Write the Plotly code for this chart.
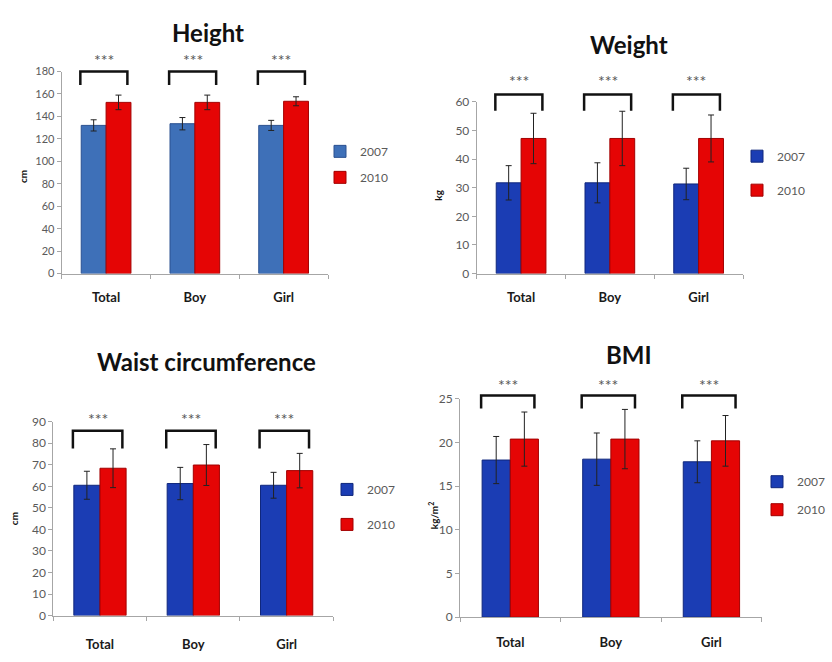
import plotly.graph_objects as go

W, H = 832, 662

categories = ["Total", "Boy", "Girl"]
years = ["2007", "2010"]

height_2007 = [132.0, 133.5, 132.0]
height_2007_sd = [5.0, 5.5, 4.5]
height_2010 = [152.5, 152.5, 153.5]
height_2010_sd = [6.5, 6.5, 4.0]

weight_2007 = [31.7, 31.7, 31.3]
weight_2007_sd = [6.0, 7.0, 5.5]
weight_2010 = [47.2, 47.2, 47.2]
weight_2010_sd = [8.8, 9.5, 8.2]

waist_2007 = [60.5, 61.3, 60.5]
waist_2007_sd = [6.5, 7.5, 6.0]
waist_2010 = [68.4, 69.9, 67.3]
waist_2010_sd = [9.0, 9.5, 8.0]

bmi_2007 = [18.0, 18.1, 17.8]
bmi_2007_sd = [2.7, 3.0, 2.4]
bmi_2010 = [20.4, 20.4, 20.2]
bmi_2010_sd = [3.1, 3.4, 2.9]

significance = ["***", "***", "***"]


def px_x(v):
    return v / W


def px_y(v):
    return 1 - v / H


RED = "#E50505"
RED_EDGE = "#A30000"

# one entry per panel: values, axis range and pixel placement of its pieces
panels = [
    dict(title="Height", unit="cm", means=(height_2007, height_2010),
         sds=(height_2007_sd, height_2010_sd), ymax=180, dtick=20,
         blue="#3E70B8", blue_edge="#2A5090",
         xdom=(61.7, 328), ydom=(271.7, 65), tick_size=11, label_gap=12,
         bracket=(168, 180), star=190.5,
         title_xy=(208, 25), unit_xy=(23, 173),
         legend_xy=(320, 160), legend_gap=7),
    dict(title="Weight", unit="kg", means=(weight_2007, weight_2010),
         sds=(weight_2007_sd, weight_2010_sd), ymax=60, dtick=10,
         blue="#1B3DB4", blue_edge="#10277C",
         xdom=(476.7, 743), ydom=(271.7, 96), tick_size=12, label_gap=12,
         bracket=(56.9, 62.6), star=67.3,
         title_xy=(629, 37), unit_xy=(438, 192),
         legend_xy=(737, 169), legend_gap=15),
    dict(title="Waist circumference", unit="cm", means=(waist_2007, waist_2010),
         sds=(waist_2007_sd, waist_2010_sd), ymax=90, dtick=10,
         blue="#1B3DB4", blue_edge="#10277C",
         xdom=(53.3, 333.3), ydom=(621.7, 423.3), tick_size=12, label_gap=17,
         bracket=(77.6, 85.8), star=91.5,
         title_xy=(206, 362), unit_xy=(14, 523),
         legend_xy=(327, 510.5), legend_gap=16),
    dict(title="BMI", unit="kg/m<sup>2</sup>", means=(bmi_2007, bmi_2010),
         sds=(bmi_2007_sd, bmi_2010_sd), ymax=25, dtick=5,
         blue="#1B3DB4", blue_edge="#10277C",
         xdom=(460, 761.7), ydom=(623.3, 400), tick_size=12, label_gap=13,
         bracket=(23.9, 25.4), star=26.7,
         title_xy=(629, 355), unit_xy=(433, 520),
         legend_xy=(757, 499), legend_gap=9),
]

BRACKET_LEFT, BRACKET_RIGHT = -0.29, 0.24

fig = go.Figure()
layout = dict(
    width=W, height=H, margin=dict(l=0, r=0, t=0, b=0),
    paper_bgcolor="white", plot_bgcolor="white",
    barmode="group", bargap=0.44, bargroupgap=0.0,
    font=dict(family="Lato, Open Sans, sans-serif", color="#5a5a5a"),
    shapes=[], annotations=[],
)

for i, p in enumerate(panels, start=1):
    sfx = "" if i == 1 else str(i)
    xa, ya = "x" + sfx, "y" + sfx
    leg = "legend" + sfx
    colors = [(p["blue"], p["blue_edge"]), (RED, RED_EDGE)]
    for k, year in enumerate(years):
        fig.add_trace(go.Bar(
            x=list(range(len(categories))), y=p["means"][k], name=year,
            xaxis=xa, yaxis=ya, legend=leg, legendgroup=f"{i}-{year}",
            marker=dict(color=colors[k][0], line=dict(color=colors[k][1], width=1)),
            error_y=dict(type="data", array=p["sds"][k], visible=True,
                         color="#222222", thickness=1, width=3),
        ))

    layout["xaxis" + sfx] = dict(
        domain=[px_x(p["xdom"][0]), px_x(p["xdom"][1])], anchor=ya,
        range=[-0.5, 2.5], tickmode="array", tickvals=[0, 1, 2],
        ticktext=categories, ticks="", showline=True, linecolor="#a6a6a6",
        linewidth=1, showgrid=False, zeroline=False, ticklabelstandoff=p["label_gap"],
        tickfont=dict(size=13, color="#1a1a1a", family="Lato, sans-serif", weight="bold"),
        minor=dict(tickmode="array", tickvals=[-0.5, 0.5, 1.5, 2.5], ticks="outside",
                   ticklen=4, tickcolor="#a6a6a6", showgrid=False),
        fixedrange=True,
    )
    layout["yaxis" + sfx] = dict(
        domain=[px_y(p["ydom"][0]), px_y(p["ydom"][1])], anchor=xa,
        range=[0, p["ymax"]], dtick=p["dtick"], ticks="outside", ticklen=4,
        tickcolor="#a6a6a6", showline=True, linecolor="#a6a6a6", linewidth=1,
        showgrid=False, zeroline=False,
        tickfont=dict(size=p["tick_size"], color="#5a5a5a"),
        fixedrange=True,
    )
    layout[leg] = dict(
        x=px_x(p["legend_xy"][0]), y=px_y(p["legend_xy"][1]),
        xanchor="left", yanchor="middle", bgcolor="rgba(0,0,0,0)",
        traceorder="grouped", tracegroupgap=p["legend_gap"],
        font=dict(size=12, color="#5a5a5a"),
    )

    lo, hi = p["bracket"]
    for c, star in enumerate(significance):
        x0, x1 = c + BRACKET_LEFT, c + BRACKET_RIGHT
        y0, y1 = lo / p["ymax"], hi / p["ymax"]
        layout["shapes"].append(dict(
            type="path", xref=xa, yref=ya + " domain",
            path=f"M {x0},{y0} L {x0},{y1} L {x1},{y1} L {x1},{y0}",
            line=dict(color="#111111", width=2.5),
        ))
        layout["annotations"].append(dict(
            x=(x0 + x1) / 2, y=p["star"] / p["ymax"], xref=xa, yref=ya + " domain",
            text=star, showarrow=False, xanchor="center", yanchor="middle",
            font=dict(size=16, color="#555555"),
        ))

    layout["annotations"].append(dict(
        x=px_x(p["title_xy"][0]), y=px_y(p["title_xy"][1]), xref="paper", yref="paper",
        text=p["title"], showarrow=False, xanchor="center", yanchor="middle",
        font=dict(size=24, color="#111111", weight="bold"),
    ))
    layout["annotations"].append(dict(
        x=px_x(p["unit_xy"][0]), y=px_y(p["unit_xy"][1]), xref="paper", yref="paper",
        text=p["unit"], showarrow=False, textangle=-90, xanchor="center", yanchor="middle",
        font=dict(size=10, color="#111111", weight="bold"),
    ))

fig.update_layout(**layout)
fig.write_html("out.html")
